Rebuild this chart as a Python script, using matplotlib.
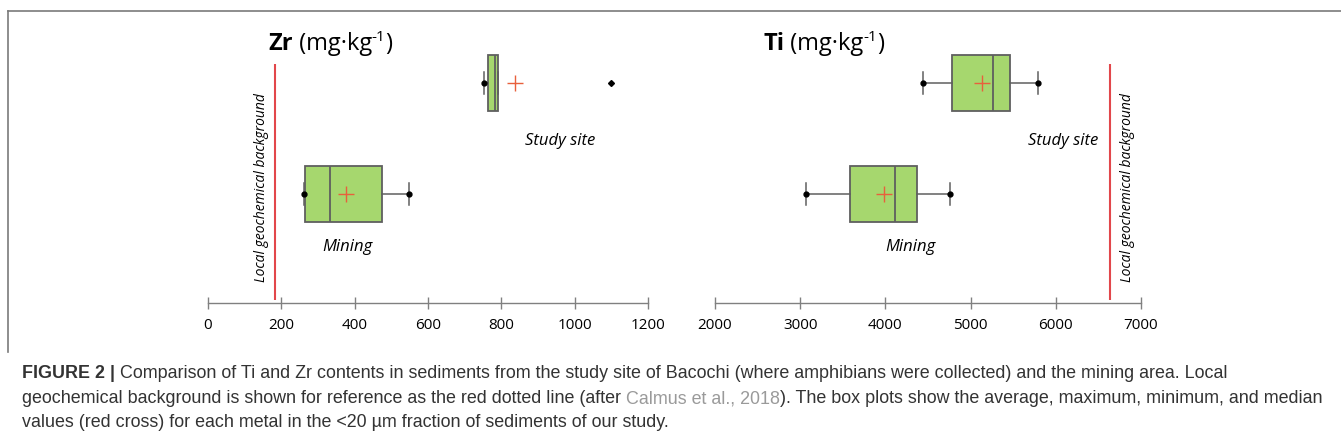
import matplotlib
matplotlib.use("Agg")
import matplotlib.pyplot as plt
from matplotlib.lines import Line2D

W, H = 1341, 448

# data
groups = ["Mining", "Study site"]
zr_min = [262, 753]
zr_q1 = [265, 764]
zr_med = [333, 783]
zr_q3 = [475, 791]
zr_max = [548, 791]
zr_mean = [376, 837]
zr_out = [[], [1099]]
zr_bg = 183

ti_min = [3068, 4441]
ti_q1 = [3585, 4782]
ti_med = [4113, 5263]
ti_q3 = [4371, 5462]
ti_max = [4758, 5791]
ti_mean = [3983, 5134]
ti_out = [[], []]
ti_bg = 6640

zr_ticks = [0, 200, 400, 600, 800, 1000, 1200]
ti_ticks = [2000, 3000, 4000, 5000, 6000, 7000]

green = "#a6d76e"
edge = "#5f5f5f"
red_line = "#e2474b"
red_cross = "#e8603c"
axis_grey = "#808080"
label_font = "Open Sans"

fig = plt.figure(figsize=(W / 100, H / 100), dpi=100)


def px_axes(x0, x1, y_top, y_bot):
    return fig.add_axes([x0 / W, 1 - y_bot / H, (x1 - x0) / W, (y_bot - y_top) / H])


def draw_panel(ax, xlim, ticks, mins, q1, med, q3, maxs, means, outs, bg):
    stats = []
    for i in range(len(groups)):
        stats.append(dict(med=med[i], q1=q1[i], q3=q3[i], whislo=mins[i],
                          whishi=maxs[i], mean=means[i], fliers=outs[i]))
    ax.bxp(stats, positions=[1, 2], widths=0.5, orientation="horizontal",
           patch_artist=True, showmeans=True, capwidths=0.2,
           boxprops=dict(facecolor=green, edgecolor=edge, linewidth=1.3),
           medianprops=dict(color=edge, linewidth=1.3),
           whiskerprops=dict(color=edge, linewidth=1.1),
           capprops=dict(color=edge, linewidth=1.1),
           meanprops=dict(marker="+", markeredgecolor=red_cross, markersize=12,
                          markeredgewidth=1.0),
           flierprops=dict(marker="D", markerfacecolor="black",
                           markeredgecolor="black", markersize=3))
    ax.plot(mins, [1, 2], "o", color="black", ms=3.5, zorder=5)
    ax.plot([maxs[i] for i in range(2) if maxs[i] != q3[i]],
            [i + 1 for i in range(2) if maxs[i] != q3[i]],
            "o", color="black", ms=3.5, zorder=5)
    ax.vlines(bg, 0.045, 2.17, color=red_line, linewidth=1.5)
    ax.set_xlim(*xlim)
    ax.set_ylim(0.018, 2.297)
    for s in ["top", "right", "left"]:
        ax.spines[s].set_visible(False)
    ax.spines["bottom"].set_color(axis_grey)
    ax.spines["bottom"].set_linewidth(1.0)
    ax.set_yticks([])
    ax.set_xticks(ticks)
    ax.set_xticklabels([str(t) for t in ticks], fontfamily=label_font, fontsize=11)
    ax.tick_params(axis="x", direction="inout", length=9, width=1.0,
                   color=axis_grey, pad=6)
    ax.patch.set_alpha(0)


ax1 = px_axes(208, 648, 50, 303)
draw_panel(ax1, (0, 1200), zr_ticks, zr_min, zr_q1, zr_med, zr_q3, zr_max,
           zr_mean, zr_out, zr_bg)
ax1.text(960, 1.48, "Study site", style="italic", fontfamily=label_font,
         fontsize=12, ha="center", va="center")
ax1.text(379, 0.52, "Mining", style="italic", fontfamily=label_font,
         fontsize=12, ha="center", va="center")
ax1.text(147, 1.06, "Local geochemical background", style="italic",
         fontfamily=label_font, fontsize=10, rotation=90, ha="center", va="center")

ax2 = px_axes(715, 1141, 50, 303)
draw_panel(ax2, (2000, 7000), ti_ticks, ti_min, ti_q1, ti_med, ti_q3, ti_max,
           ti_mean, ti_out, ti_bg)
ax2.text(6085, 1.48, "Study site", style="italic", fontfamily=label_font,
         fontsize=12, ha="center", va="center")
ax2.text(4289, 0.52, "Mining", style="italic", fontfamily=label_font,
         fontsize=12, ha="center", va="center")
ax2.text(6847, 1.06, "Local geochemical background", style="italic",
         fontfamily=label_font, fontsize=10, rotation=90, ha="center", va="center")

renderer = fig.canvas.get_renderer()


def runs(x, y, pieces):
    # pieces: (text, kwargs, dy) drawn one after another, x/y in pixels from top-left
    cx = x
    for txt, kw, dy in pieces:
        t = fig.text(cx / W, 1 - (y - dy) / H, txt, va="baseline", ha="left", **kw)
        bb = t.get_window_extent(renderer)
        cx += bb.width


def title(x, el):
    f = dict(fontfamily=label_font, fontsize=17)
    runs(x, 50, [(el, dict(f, fontweight="bold"), 0),
                 (" (mg\u00b7kg", f, 0),
                 ("-1", dict(fontfamily=label_font, fontsize=11), 9),
                 (")", f, 0)])


title(268, "Zr")
title(763, "Ti")

# frame
fig.add_artist(Line2D([8 / W, 1], [1 - 11 / H, 1 - 11 / H], color="#7a7a7a", lw=1.2))
fig.add_artist(Line2D([8 / W, 8 / W], [1 - 11 / H, 1 - 352 / H], color="#7a7a7a", lw=1.2))

cap = dict(fontfamily="Liberation Sans", fontsize=12.9, color="#333333")
runs(22, 378, [("FIGURE 2 | ", dict(cap, fontweight="bold"), 0),
               ("Comparison of Ti and Zr contents in sediments from the study site of Bacochi "
                "(where amphibians were collected) and the mining area. Local", cap, 0)])
runs(22, 403, [("geochemical background is shown for reference as the red dotted line (after ",
                cap, 0),
               ("Calmus et al., 2018", dict(cap, color="#9a9a9a"), 0),
               ("). The box plots show the average, maximum, minimum, and median", cap, 0)])
runs(22, 427, [("values (red cross) for each metal in the <20 \u00b5m fraction of sediments of our study.",
                cap, 0)])

fig.savefig("out.png", dpi=100)
